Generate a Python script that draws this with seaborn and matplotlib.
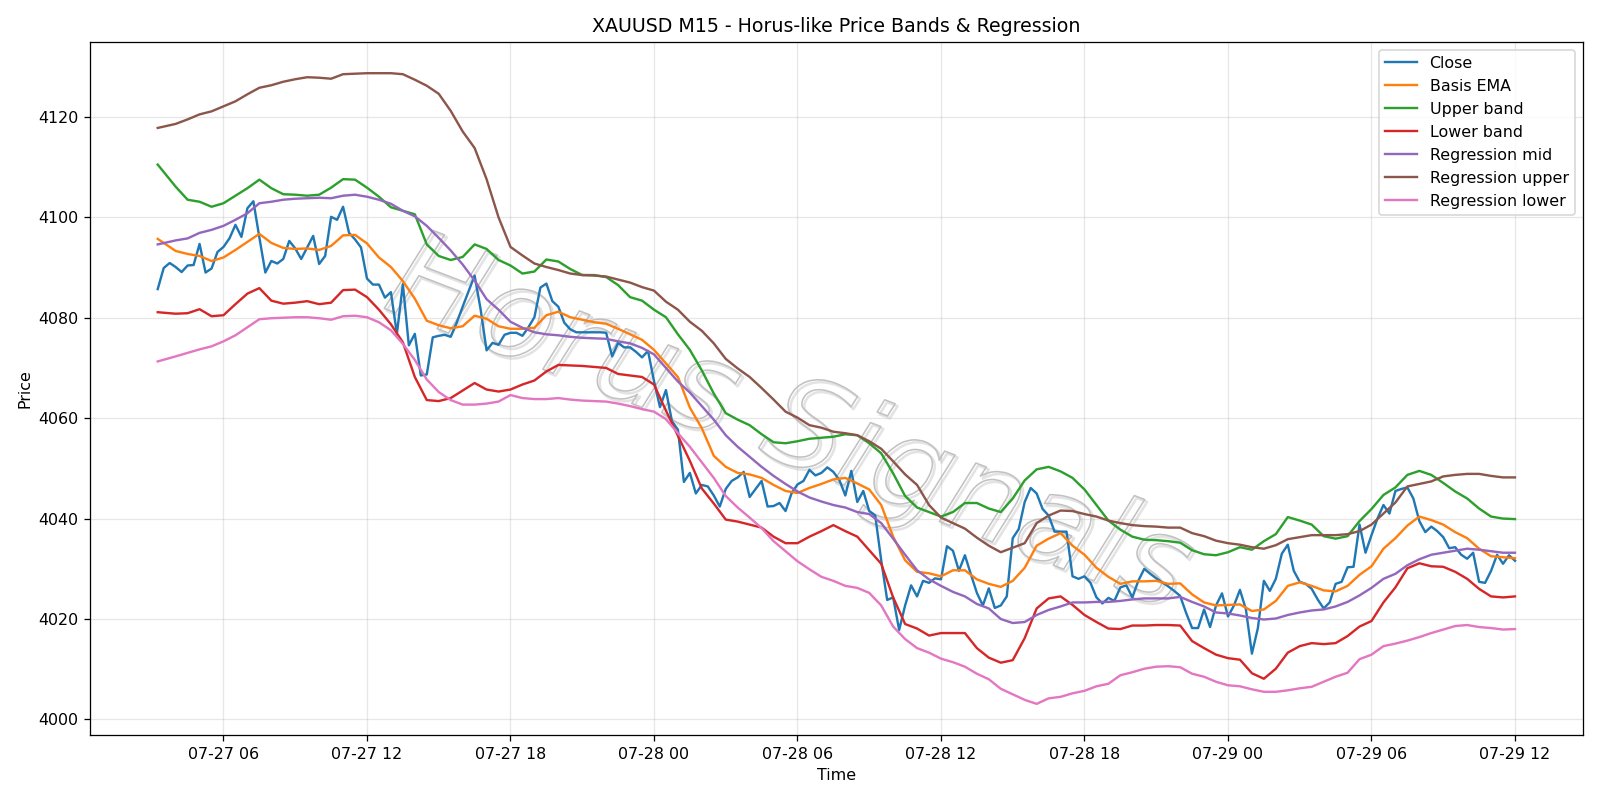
import pandas as pd
import matplotlib.pyplot as plt
import matplotlib.dates as mdates
import matplotlib.patheffects as pe
import seaborn as sns

# 15-minute closes, 07-27 03:15 -> 07-29 12:00
close = [
    4085.7, 4089.9, 4090.9, 4090.1, 4089.1, 4090.4, 4090.5, 4094.7, 4089.0, 4089.8,
    4093.1, 4094.1, 4095.8, 4098.5, 4096.1, 4101.8, 4103.2, 4096.0, 4089.0, 4091.3,
    4090.8, 4091.7, 4095.3, 4093.8, 4091.7, 4094.0, 4096.3, 4090.7, 4092.3, 4100.1,
    4099.5, 4102.1, 4096.9, 4095.6, 4094.0, 4087.8, 4086.6, 4086.6, 4084.0, 4085.1,
    4076.8, 4086.7, 4074.5, 4076.8, 4068.5, 4068.7, 4076.1, 4076.4, 4076.6, 4076.2,
    4079.0, 4082.2, 4085.3, 4088.4, 4081.7, 4073.5, 4075.0, 4074.6, 4076.6, 4077.0,
    4077.0, 4076.4, 4078.1, 4080.1, 4086.0, 4086.8, 4083.3, 4082.2, 4079.0, 4077.7,
    4077.1, 4077.1, 4077.1, 4077.1, 4077.1, 4077.0, 4072.3, 4075.0, 4074.1, 4074.1,
    4073.2, 4072.1, 4073.4, 4067.4, 4062.2, 4065.6, 4059.4, 4057.7, 4047.3, 4049.1,
    4045.0, 4046.7, 4046.4, 4044.6, 4042.4, 4045.9, 4047.5, 4048.2, 4049.3, 4044.3,
    4045.9, 4047.5, 4042.4, 4042.5, 4043.1, 4041.5, 4045.0, 4046.8, 4047.5, 4049.7,
    4048.6, 4049.1, 4050.2, 4049.3, 4047.7, 4044.6, 4049.5, 4043.3, 4045.5, 4041.5,
    4040.6, 4031.7, 4023.8, 4024.3, 4017.8, 4022.7, 4026.7, 4024.5, 4027.6, 4027.2,
    4028.1, 4027.9, 4034.5, 4033.6, 4029.6, 4032.7, 4028.9, 4025.2, 4022.7, 4026.1,
    4022.2, 4022.7, 4024.5, 4036.1, 4037.9, 4043.3, 4046.1, 4045.0, 4041.9, 4040.6,
    4037.4, 4037.4, 4037.4, 4028.5, 4028.0, 4028.5, 4027.2, 4024.3, 4023.1, 4024.2,
    4023.6, 4026.3, 4026.7, 4024.3, 4027.6, 4030.0, 4029.0, 4028.1, 4027.3, 4026.5,
    4025.6, 4024.6, 4021.2, 4018.2, 4018.2, 4021.9, 4018.4, 4022.7, 4025.1, 4020.5,
    4022.7, 4025.8, 4021.9, 4013.1, 4018.2, 4027.6, 4025.6, 4028.0, 4033.0, 4034.8,
    4029.6, 4027.4, 4027.0, 4026.0, 4023.9, 4022.1, 4023.3, 4027.0, 4027.4, 4030.3,
    4030.4, 4038.8, 4033.2, 4036.7, 4040.0, 4042.7, 4041.0, 4045.5, 4045.9, 4046.2,
    4044.0, 4039.5, 4037.3, 4038.4, 4037.5, 4036.3, 4034.1, 4034.3, 4032.8, 4032.0,
    4033.2, 4027.4, 4027.2, 4029.6, 4032.8, 4031.0, 4032.7, 4031.6,
]

# band / regression lines read every 30 minutes (first bar, then 04:00, 04:30, ...)
basis_ema = [
    4095.7, 4093.3, 4092.7, 4092.3, 4091.3, 4092.0, 4093.5, 4095.1, 4096.7, 4094.9,
    4093.9, 4093.7, 4093.8, 4093.5, 4094.3, 4096.4, 4096.5, 4094.8, 4092.0, 4090.1,
    4087.3, 4083.8, 4079.4, 4078.5, 4077.9, 4078.3, 4080.4, 4079.8, 4078.3, 4077.8,
    4077.8, 4078.0, 4080.5, 4081.2, 4080.1, 4079.6, 4079.1, 4078.8, 4077.8, 4076.7,
    4075.6, 4073.6, 4070.9, 4068.2, 4062.1, 4058.0, 4052.5, 4050.3, 4049.1, 4048.8,
    4048.1, 4046.7, 4045.5, 4045.1, 4046.1, 4046.9, 4047.8, 4048.1, 4047.0, 4045.8,
    4042.7, 4036.4, 4031.7, 4029.4, 4029.1, 4028.5, 4029.7, 4029.7, 4027.9, 4027.0,
    4026.4, 4027.6, 4030.2, 4034.6, 4036.0, 4037.1, 4034.6, 4032.8, 4030.2, 4028.4,
    4027.0, 4027.5, 4027.5, 4027.6, 4027.0, 4027.1, 4024.9, 4023.3, 4022.7, 4022.8,
    4022.9, 4021.6, 4021.9, 4023.6, 4026.6, 4027.3, 4026.6, 4025.7, 4025.5, 4026.6,
    4028.8, 4030.5, 4034.0, 4036.1, 4038.6, 4040.4, 4039.7, 4038.8, 4037.3, 4036.1,
    4034.0, 4032.5, 4032.3, 4032.1,
]
upper_band = [
    4110.5, 4106.1, 4103.5, 4103.1, 4102.1, 4102.8, 4104.3, 4105.8, 4107.5, 4105.8,
    4104.6, 4104.5, 4104.3, 4104.5, 4105.9, 4107.6, 4107.5, 4105.9, 4104.1, 4102.0,
    4101.3, 4100.6, 4094.6, 4092.3, 4091.5, 4092.1, 4094.6, 4093.7, 4091.5, 4090.4,
    4088.8, 4089.2, 4091.6, 4091.2, 4089.7, 4088.5, 4088.5, 4088.1, 4086.5, 4084.1,
    4083.4, 4081.6, 4080.1, 4076.7, 4073.6, 4069.5, 4064.9, 4061.0, 4059.7, 4058.6,
    4056.8, 4055.2, 4055.0, 4055.4, 4055.9, 4056.1, 4056.3, 4056.8, 4056.6, 4055.0,
    4053.0, 4049.0, 4044.5, 4042.2, 4041.3, 4040.4, 4041.3, 4043.1, 4043.1, 4042.0,
    4041.3, 4044.0, 4047.6, 4049.8, 4050.3, 4049.4, 4048.1, 4045.8, 4042.7, 4039.6,
    4037.8, 4036.4, 4035.8, 4035.7, 4035.5, 4035.2, 4033.7, 4032.9, 4032.7, 4033.3,
    4034.3, 4033.8, 4035.5, 4036.9, 4040.3, 4039.6, 4038.8, 4036.5, 4036.0, 4036.5,
    4039.5, 4041.9, 4044.7, 4046.2, 4048.7, 4049.5, 4048.7, 4047.1, 4045.4, 4044.0,
    4042.0, 4040.4, 4040.0, 4039.9,
]
lower_band = [
    4081.1, 4080.8, 4080.9, 4081.7, 4080.3, 4080.5, 4082.7, 4084.8, 4085.9, 4083.4,
    4082.8, 4083.0, 4083.3, 4082.7, 4083.0, 4085.5, 4085.6, 4084.1, 4081.6, 4078.7,
    4075.1, 4068.2, 4063.6, 4063.4, 4064.0, 4065.5, 4067.0, 4065.7, 4065.3, 4065.7,
    4066.7, 4067.5, 4069.3, 4070.6, 4070.5, 4070.4, 4070.2, 4070.0, 4068.8, 4068.5,
    4068.2, 4066.7, 4061.5, 4056.5, 4051.5, 4046.0, 4043.0, 4039.8, 4039.4, 4038.8,
    4038.2, 4036.4, 4035.1, 4035.1, 4036.4, 4037.5, 4038.7, 4037.5, 4036.4, 4033.7,
    4031.0, 4024.3, 4019.0, 4018.1, 4016.7, 4017.2, 4017.2, 4017.2, 4014.2, 4012.3,
    4011.3, 4011.8, 4016.2, 4022.1, 4024.1, 4024.5, 4022.8, 4020.8, 4019.4, 4018.1,
    4018.0, 4018.7, 4018.7, 4018.8, 4018.8, 4018.7, 4015.6, 4014.2, 4012.9, 4012.2,
    4011.9, 4009.2, 4008.1, 4010.1, 4013.3, 4014.6, 4015.2, 4015.0, 4015.2, 4016.6,
    4018.5, 4019.6, 4023.3, 4026.3, 4030.1, 4031.1, 4030.5, 4030.4, 4029.4, 4028.0,
    4026.0, 4024.5, 4024.3, 4024.5,
]
reg_mid = [
    4094.6, 4095.4, 4095.8, 4096.9, 4097.5, 4098.3, 4099.5, 4100.8, 4102.8, 4103.1,
    4103.5, 4103.7, 4103.8, 4103.9, 4103.8, 4104.3, 4104.5, 4104.1, 4103.5, 4102.7,
    4101.3, 4100.2, 4098.3, 4095.9, 4093.4, 4090.6, 4087.4, 4083.7, 4081.6, 4079.2,
    4078.0, 4077.1, 4076.7, 4076.5, 4076.2, 4076.0, 4075.9, 4075.8, 4075.3, 4074.9,
    4074.0, 4072.7, 4070.0, 4067.3, 4065.1, 4062.4, 4059.7, 4056.6, 4054.3, 4052.3,
    4050.3, 4048.5, 4046.9, 4045.4, 4044.2, 4043.4, 4042.7, 4042.2, 4041.3, 4040.9,
    4039.1, 4036.0, 4032.8, 4029.7, 4027.9, 4026.6, 4025.4, 4024.5, 4023.0, 4022.1,
    4020.0, 4019.2, 4019.4, 4020.8, 4021.8, 4022.5, 4023.3, 4023.3, 4023.4, 4023.4,
    4023.6, 4023.9, 4024.1, 4024.1, 4024.1, 4024.4, 4023.4, 4022.5, 4021.3, 4021.1,
    4020.7, 4020.2, 4019.9, 4020.1, 4020.8, 4021.3, 4021.7, 4021.9, 4022.5, 4023.4,
    4024.7, 4026.2, 4028.0, 4029.0, 4030.7, 4031.9, 4032.8, 4033.2, 4033.6, 4034.0,
    4033.8, 4033.5, 4033.2, 4033.2,
]
reg_upper = [
    4117.8, 4118.6, 4119.5, 4120.5, 4121.1, 4122.1, 4123.1, 4124.5, 4125.8, 4126.3,
    4127.0, 4127.5, 4127.9, 4127.8, 4127.6, 4128.5, 4128.6, 4128.7, 4128.7, 4128.7,
    4128.5, 4127.4, 4126.2, 4124.6, 4121.2, 4117.1, 4113.8, 4107.6, 4100.0, 4094.1,
    4092.4, 4090.8, 4090.1, 4089.5, 4088.8, 4088.5, 4088.4, 4088.2, 4087.6, 4087.0,
    4086.1, 4085.4, 4083.2, 4081.6, 4079.2, 4077.4, 4074.9, 4071.8, 4069.9, 4068.2,
    4066.0, 4063.7, 4061.3, 4060.1, 4058.6, 4058.1, 4057.3, 4057.0, 4056.6, 4055.4,
    4053.9, 4051.4, 4048.8, 4046.7, 4042.7, 4040.2, 4039.1, 4038.0, 4036.2, 4034.6,
    4033.3, 4034.2, 4035.1, 4039.1, 4040.6, 4041.6, 4041.5, 4040.9, 4040.4, 4039.6,
    4039.1, 4038.7, 4038.5, 4038.4, 4038.2, 4038.2, 4037.1, 4036.5, 4035.6, 4035.1,
    4034.8, 4034.3, 4034.0, 4034.7, 4035.9, 4036.3, 4036.7, 4036.7, 4036.7, 4036.9,
    4037.5, 4038.8, 4041.0, 4043.2, 4046.4, 4046.9, 4047.4, 4048.4, 4048.7, 4048.9,
    4048.9, 4048.5, 4048.2, 4048.2,
]
reg_lower = [
    4071.3, 4072.3, 4073.0, 4073.7, 4074.3, 4075.3, 4076.5, 4078.1, 4079.7, 4079.9,
    4080.0, 4080.1, 4080.1, 4079.9, 4079.6, 4080.3, 4080.4, 4080.1, 4079.1, 4077.5,
    4074.8, 4071.6, 4067.7, 4065.2, 4063.6, 4062.7, 4062.7, 4062.9, 4063.3, 4064.6,
    4064.0, 4063.8, 4063.8, 4064.0, 4063.7, 4063.5, 4063.4, 4063.3, 4062.9, 4062.4,
    4061.8, 4061.3, 4059.8, 4057.0, 4054.3, 4051.2, 4048.1, 4044.5, 4042.2, 4040.2,
    4038.1, 4035.5, 4033.5, 4031.5, 4029.9, 4028.4, 4027.6, 4026.6, 4026.2, 4025.2,
    4022.7, 4018.5, 4016.0, 4014.2, 4013.3, 4012.1, 4011.4, 4010.5, 4009.1, 4008.0,
    4006.1, 4005.0, 4003.9, 4003.1, 4004.2, 4004.5, 4005.2, 4005.7, 4006.6, 4007.1,
    4008.8, 4009.4, 4010.1, 4010.5, 4010.6, 4010.4, 4009.1, 4008.5, 4007.5, 4006.8,
    4006.6, 4006.0, 4005.5, 4005.5, 4005.8, 4006.2, 4006.5, 4007.5, 4008.5, 4009.3,
    4012.0, 4012.9, 4014.6, 4015.1, 4015.7, 4016.4, 4017.2, 4017.9, 4018.6, 4018.8,
    4018.4, 4018.2, 4017.9, 4018.0,
]

close_times = pd.date_range('2025-07-27 03:15', periods=len(close), freq='15min')
band_times = close_times[[0] + list(range(3, len(close), 2))]

series = [
    ('Close', close_times, close),
    ('Basis EMA', band_times, basis_ema),
    ('Upper band', band_times, upper_band),
    ('Lower band', band_times, lower_band),
    ('Regression mid', band_times, reg_mid),
    ('Regression upper', band_times, reg_upper),
    ('Regression lower', band_times, reg_lower),
]

fig, ax = plt.subplots(figsize=(14, 7), dpi=1600 / 14)
colors = sns.color_palette('tab10', 7)

for (name, t, vals), c in zip(series, colors):
    sns.lineplot(x=t, y=vals, ax=ax, label=name, color=c, linewidth=1.5)

# watermark: hollow outlined letters with a faint offset shadow
ax.text(0.468, 0.445, 'Horus Signals', transform=ax.transAxes, fontsize=78,
        style='italic', rotation=-21, ha='center', va='center',
        color=(1, 1, 1, 0), zorder=0.5,
        path_effects=[
            pe.Stroke(linewidth=1.6, foreground=(0.89, 0.89, 0.89), offset=(1.5, -1.5)),
            pe.Stroke(linewidth=1.0, foreground=(0.76, 0.76, 0.76)),
        ])

ax.set_title('XAUUSD M15 - Horus-like Price Bands & Regression', fontsize=12)
ax.set_xlabel('Time')
ax.set_ylabel('Price')
ax.xaxis.set_major_locator(mdates.HourLocator(byhour=[0, 6, 12, 18]))
ax.xaxis.set_major_formatter(mdates.DateFormatter('%m-%d %H'))
ax.grid(True, alpha=0.3)
ax.legend(loc='upper right')

plt.tight_layout()
plt.savefig('out.png')
